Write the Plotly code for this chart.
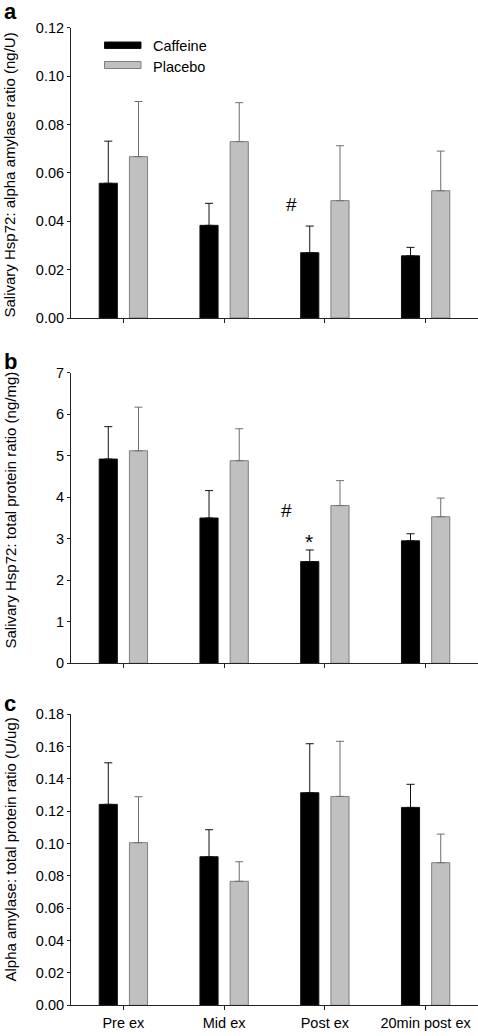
import plotly.graph_objects as go

categories = ["Pre ex", "Mid ex", "Post ex", "20min post ex"]

# Panel a: Salivary Hsp72 : alpha amylase ratio (ng/U)
a_caffeine = [0.0557, 0.0383, 0.0270, 0.0257]
a_caffeine_err = [0.0174, 0.0091, 0.0110, 0.0035]
a_placebo = [0.0667, 0.0729, 0.0485, 0.0526]
a_placebo_err = [0.0228, 0.0161, 0.0227, 0.0164]

# Panel b: Salivary Hsp72 : total protein ratio (ng/mg)
b_caffeine = [4.92, 3.50, 2.45, 2.95]
b_caffeine_err = [0.78, 0.66, 0.28, 0.17]
b_placebo = [5.12, 4.88, 3.80, 3.53]
b_placebo_err = [1.05, 0.77, 0.60, 0.45]

# Panel c: Alpha amylase : total protein ratio (U/ug)
c_caffeine = [0.1243, 0.0919, 0.1315, 0.1224]
c_caffeine_err = [0.0257, 0.0167, 0.0303, 0.0143]
c_placebo = [0.1006, 0.0767, 0.1292, 0.0882]
c_placebo_err = [0.0284, 0.0121, 0.0341, 0.0177]

y_titles = [
    "Salivary Hsp72: alpha amylase ratio (ng/U)",
    "Salivary Hsp72: total protein ratio (ng/mg)",
    "Alpha amylase: total protein ratio (U/ug)",
]
y_ranges = [[0, 0.12], [0, 7], [0, 0.18]]
y_dticks = [0.02, 1, 0.02]
y_formats = [".2f", "d", ".2f"]
panel_letters = ["a", "b", "c"]

FONT = "Liberation Sans, Arial, sans-serif"
W, H = 478, 1036
BLACK_FILL = "#000000"
GRAY_FILL = "#c0c0c0"
GRAY_LINE = "#7f7f7f"
FS = 14.5

panels = [
    (a_caffeine, a_caffeine_err, a_placebo, a_placebo_err),
    (b_caffeine, b_caffeine_err, b_placebo, b_placebo_err),
    (c_caffeine, c_caffeine_err, c_placebo, c_placebo_err),
]

# pixel extents of each plot area (top, bottom)
panel_px = [(27.7, 318.0), (372.7, 663.3), (714.3, 1005.3)]
title_center_px = [175, 510, 850]
x_left_px = 71

fig = go.Figure()
layout = dict(
    width=W, height=H,
    margin=dict(l=0, r=0, t=0, b=0, autoexpand=False),
    paper_bgcolor="white", plot_bgcolor="white",
    showlegend=False,
    barmode="overlay",
    font=dict(family=FONT, size=FS, color="black"),
)

annotations = []
bar_w = 0.18
for i, (cf, cfe, pl, ple) in enumerate(panels):
    n = "" if i == 0 else str(i + 1)
    xa, ya = "x" + n, "y" + n
    fig.add_trace(go.Bar(
        x=categories, y=cf, name="Caffeine", xaxis=xa, yaxis=ya,
        width=bar_w, offset=-0.15 - bar_w / 2,
        marker=dict(color=BLACK_FILL, line=dict(color="#111111", width=1)),
        error_y=dict(type="data", array=cfe, arrayminus=[0] * len(cfe), symmetric=False,
                     color="#111111", thickness=1, width=4),
    ))
    fig.add_trace(go.Bar(
        x=categories, y=pl, name="Placebo", xaxis=xa, yaxis=ya,
        width=bar_w, offset=0.15 - bar_w / 2,
        marker=dict(color=GRAY_FILL, line=dict(color=GRAY_LINE, width=1)),
        error_y=dict(type="data", array=ple, arrayminus=[0] * len(ple), symmetric=False,
                     color="#6f6f6f", thickness=1, width=4),
    ))
    top, bot = panel_px[i]
    layout["xaxis" + n] = dict(
        domain=[x_left_px / W, 1], anchor=ya, automargin=False,
        type="category", range=[-0.52, 3.52],
        showline=True, linecolor="#222222", linewidth=1,
        ticks="outside", ticklen=4, tickcolor="#222222",
        showgrid=False, zeroline=False,
        showticklabels=(i == 2),
        tickfont=dict(family=FONT, size=FS, color="black"),
    )
    layout["yaxis" + n] = dict(
        domain=[1 - bot / H, 1 - top / H], anchor=xa, automargin=False,
        range=y_ranges[i], dtick=y_dticks[i], tick0=0, tickformat=y_formats[i],
        showline=True, linecolor="#222222", linewidth=1,
        ticks="outside", ticklen=3, tickcolor="#222222",
        showgrid=False, zeroline=False,
        tickfont=dict(family=FONT, size=FS, color="black"),
    )
    # y-axis title
    annotations.append(dict(
        text=y_titles[i], xref="paper", yref="paper",
        x=9.5 / W, y=1 - title_center_px[i] / H, xanchor="center", yanchor="middle",
        textangle=-90, showarrow=False,
        font=dict(family=FONT, size=15, color="black"),
    ))

letter_y = [12, 361, 703]
for i, L in enumerate(panel_letters):
    annotations.append(dict(
        text="<b>%s</b>" % L, xref="paper", yref="paper",
        x=2 / W, y=1 - letter_y[i] / H, xanchor="left", yanchor="middle",
        showarrow=False, font=dict(family=FONT, size=22, color="black"),
    ))

# significance markers
annotations += [
    dict(text="#", xref="x", yref="y", x=1.67, y=0.047, showarrow=False,
         font=dict(family=FONT, size=19, color="black")),
    dict(text="#", xref="x2", yref="y2", x=1.62, y=3.67, showarrow=False,
         font=dict(family=FONT, size=19, color="black")),
    dict(text="*", xref="x2", yref="y2", x=1.845, y=2.93, showarrow=False,
         font=dict(family=FONT, size=21, color="black")),
]

# legend (panel a)
annotations += [
    dict(text="Caffeine", xref="paper", yref="paper", x=151 / W, y=1 - 46 / H,
         xanchor="left", yanchor="middle", showarrow=False,
         font=dict(family=FONT, size=FS, color="black")),
    dict(text="Placebo", xref="paper", yref="paper", x=151 / W, y=1 - 67 / H,
         xanchor="left", yanchor="middle", showarrow=False,
         font=dict(family=FONT, size=FS, color="black")),
]
shapes = [
    dict(type="rect", xref="paper", yref="paper",
         x0=104.5 / W, x1=141 / W, y0=1 - 48.5 / H, y1=1 - 42 / H,
         fillcolor=BLACK_FILL, line=dict(color="#111111", width=1)),
    dict(type="rect", xref="paper", yref="paper",
         x0=104.5 / W, x1=141 / W, y0=1 - 68.5 / H, y1=1 - 61.5 / H,
         fillcolor=GRAY_FILL, line=dict(color=GRAY_LINE, width=1)),
]
layout["annotations"] = annotations
layout["shapes"] = shapes
fig.update_layout(**layout)
fig.write_html("out.html", config={"displayModeBar": False},
               post_script="document.body.style.margin='0';document.body.style.padding='0';")
